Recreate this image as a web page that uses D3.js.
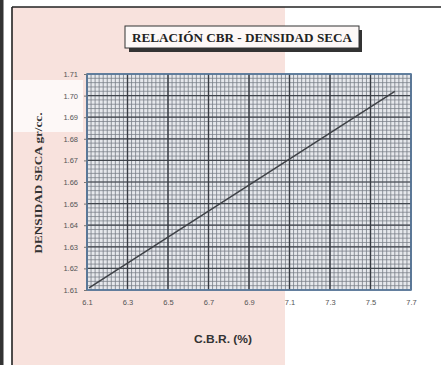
<!DOCTYPE html>
<html><head><meta charset="utf-8">
<script src="https://cdn.jsdelivr.net/npm/d3@7"></script>
<style>body{margin:0;background:#fff}svg{display:block}</style>
</head><body>
<script>
const cbr = [6.11, 7.62];
const density = [1.611, 1.702];
const xTicks = ["6.1","6.3","6.5","6.7","6.9","7.1","7.3","7.5","7.7"];
const yTicks = ["1.61","1.62","1.63","1.64","1.65","1.66","1.67","1.68","1.69","1.70","1.71"];
const title = "RELACIÓN CBR - DENSIDAD SECA";
const xTitle = "C.B.R. (%)";
const yTitle = "DENSIDAD SECA gr/cc.";

const W = 441, H = 365;
const svg = d3.select("body").append("svg").attr("width", W).attr("height", H);

// scanned-sheet background
svg.append("rect").attr("x",12).attr("y",7).attr("width",273).attr("height",H-7).attr("fill","#f8e2dd");
svg.append("rect").attr("x",13).attr("y",80).attr("width",70).attr("height",52).attr("fill","#fdf8f7");
// frame
svg.append("rect").attr("x",0).attr("y",0).attr("width",3.5).attr("height",H).attr("fill","#333");
svg.append("line").attr("x1",12).attr("x2",12).attr("y1",7).attr("y2",H).attr("stroke","#222").attr("stroke-width",1.6);
svg.append("line").attr("x1",12).attr("x2",W).attr("y1",7).attr("y2",7).attr("stroke","#222").attr("stroke-width",1.6);

// title box
svg.append("rect").attr("x",129).attr("y",30).attr("width",233).attr("height",22).attr("fill","#333");
svg.append("rect").attr("x",125).attr("y",26).attr("width",234).attr("height",22).attr("fill","#fdf8f7").attr("stroke","#333").attr("stroke-width",1);
svg.append("text").attr("x",242).attr("y",42).attr("text-anchor","middle")
  .attr("font-family","Liberation Serif, serif").attr("font-weight","bold").attr("font-size",11.5)
  .attr("textLength",220).attr("lengthAdjust","spacingAndGlyphs")
  .attr("fill","#222").text(title);

const m = {l:87, r:411, t:74, b:290};
const x = d3.scaleLinear().domain([+xTicks[0], +xTicks[xTicks.length-1]]).range([m.l, m.r]);
const y = d3.scaleLinear().domain([+yTicks[0], +yTicks[yTicks.length-1]]).range([m.b, m.t]);

const g = svg.append("g");
g.append("rect").attr("x",m.l).attr("y",m.t).attr("width",m.r-m.l).attr("height",m.b-m.t).attr("fill","#e6e8ec");

// minor grid
const xMinor = d3.range(0, 81).map(i => 6.1 + i*0.02);
const yMinor = d3.range(0, 51).map(i => 1.61 + i*0.002);
g.selectAll(".ym").data(yMinor).join("line")
  .attr("x1",m.l).attr("x2",m.r).attr("y1",d=>y(d)).attr("y2",d=>y(d))
  .attr("stroke","#7d838c").attr("stroke-width",0.8);
g.selectAll(".xm").data(xMinor).join("line")
  .attr("y1",m.t).attr("y2",m.b).attr("x1",d=>x(d)).attr("x2",d=>x(d))
  .attr("stroke","#767c85").attr("stroke-width",0.8);
// major grid
g.selectAll(".yM").data(yTicks).join("line")
  .attr("x1",m.l).attr("x2",m.r).attr("y1",d=>y(+d)).attr("y2",d=>y(+d))
  .attr("stroke","#40454c").attr("stroke-width",1.2);
g.selectAll(".xM").data(xTicks).join("line")
  .attr("y1",m.t).attr("y2",m.b).attr("x1",d=>x(+d)).attr("x2",d=>x(+d))
  .attr("stroke","#383c43").attr("stroke-width",1.4);
g.append("rect").attr("x",m.l).attr("y",m.t).attr("width",m.r-m.l).attr("height",m.b-m.t)
  .attr("fill","none").attr("stroke","#5a7ea3").attr("stroke-width",1.6);

// axes
const xAxis = d3.axisBottom(x).tickValues(xTicks.map(Number)).tickFormat((d,i)=>xTicks[i]).tickSize(0).tickPadding(10);
const yAxis = d3.axisLeft(y).tickValues(yTicks.map(Number)).tickFormat((d,i)=>yTicks[i]).tickSize(3).tickPadding(6);
const xa = svg.append("g").attr("transform",`translate(0,${m.b})`).call(xAxis);
const ya = svg.append("g").attr("transform",`translate(${m.l},0)`).call(yAxis);
[xa, ya].forEach(a => {
  a.select(".domain").remove();
  a.selectAll("text").attr("font-family","Liberation Sans, Arial, sans-serif").attr("font-size",7.5).attr("fill","#555");
  a.selectAll("line").attr("stroke","#777");
});

// data line
g.append("path").datum(cbr.map((c,i)=>[c, density[i]]))
  .attr("d", d3.line().x(d=>x(d[0])).y(d=>y(d[1])))
  .attr("fill","none").attr("stroke","#3f4247").attr("stroke-width",1.5);

// axis titles
svg.append("text").attr("x",223).attr("y",343).attr("text-anchor","middle")
  .attr("font-family","Liberation Sans, Arial, sans-serif").attr("font-weight","bold").attr("font-size",10)
  .attr("textLength",58).attr("lengthAdjust","spacingAndGlyphs")
  .attr("fill","#333").text(xTitle);
svg.append("text").attr("transform","translate(42,183) rotate(-90)").attr("text-anchor","middle")
  .attr("font-family","Liberation Serif, serif").attr("font-weight","bold").attr("font-size",11)
  .attr("textLength",141).attr("lengthAdjust","spacingAndGlyphs")
  .attr("fill","#333").text(yTitle);
</script>
</body></html>
